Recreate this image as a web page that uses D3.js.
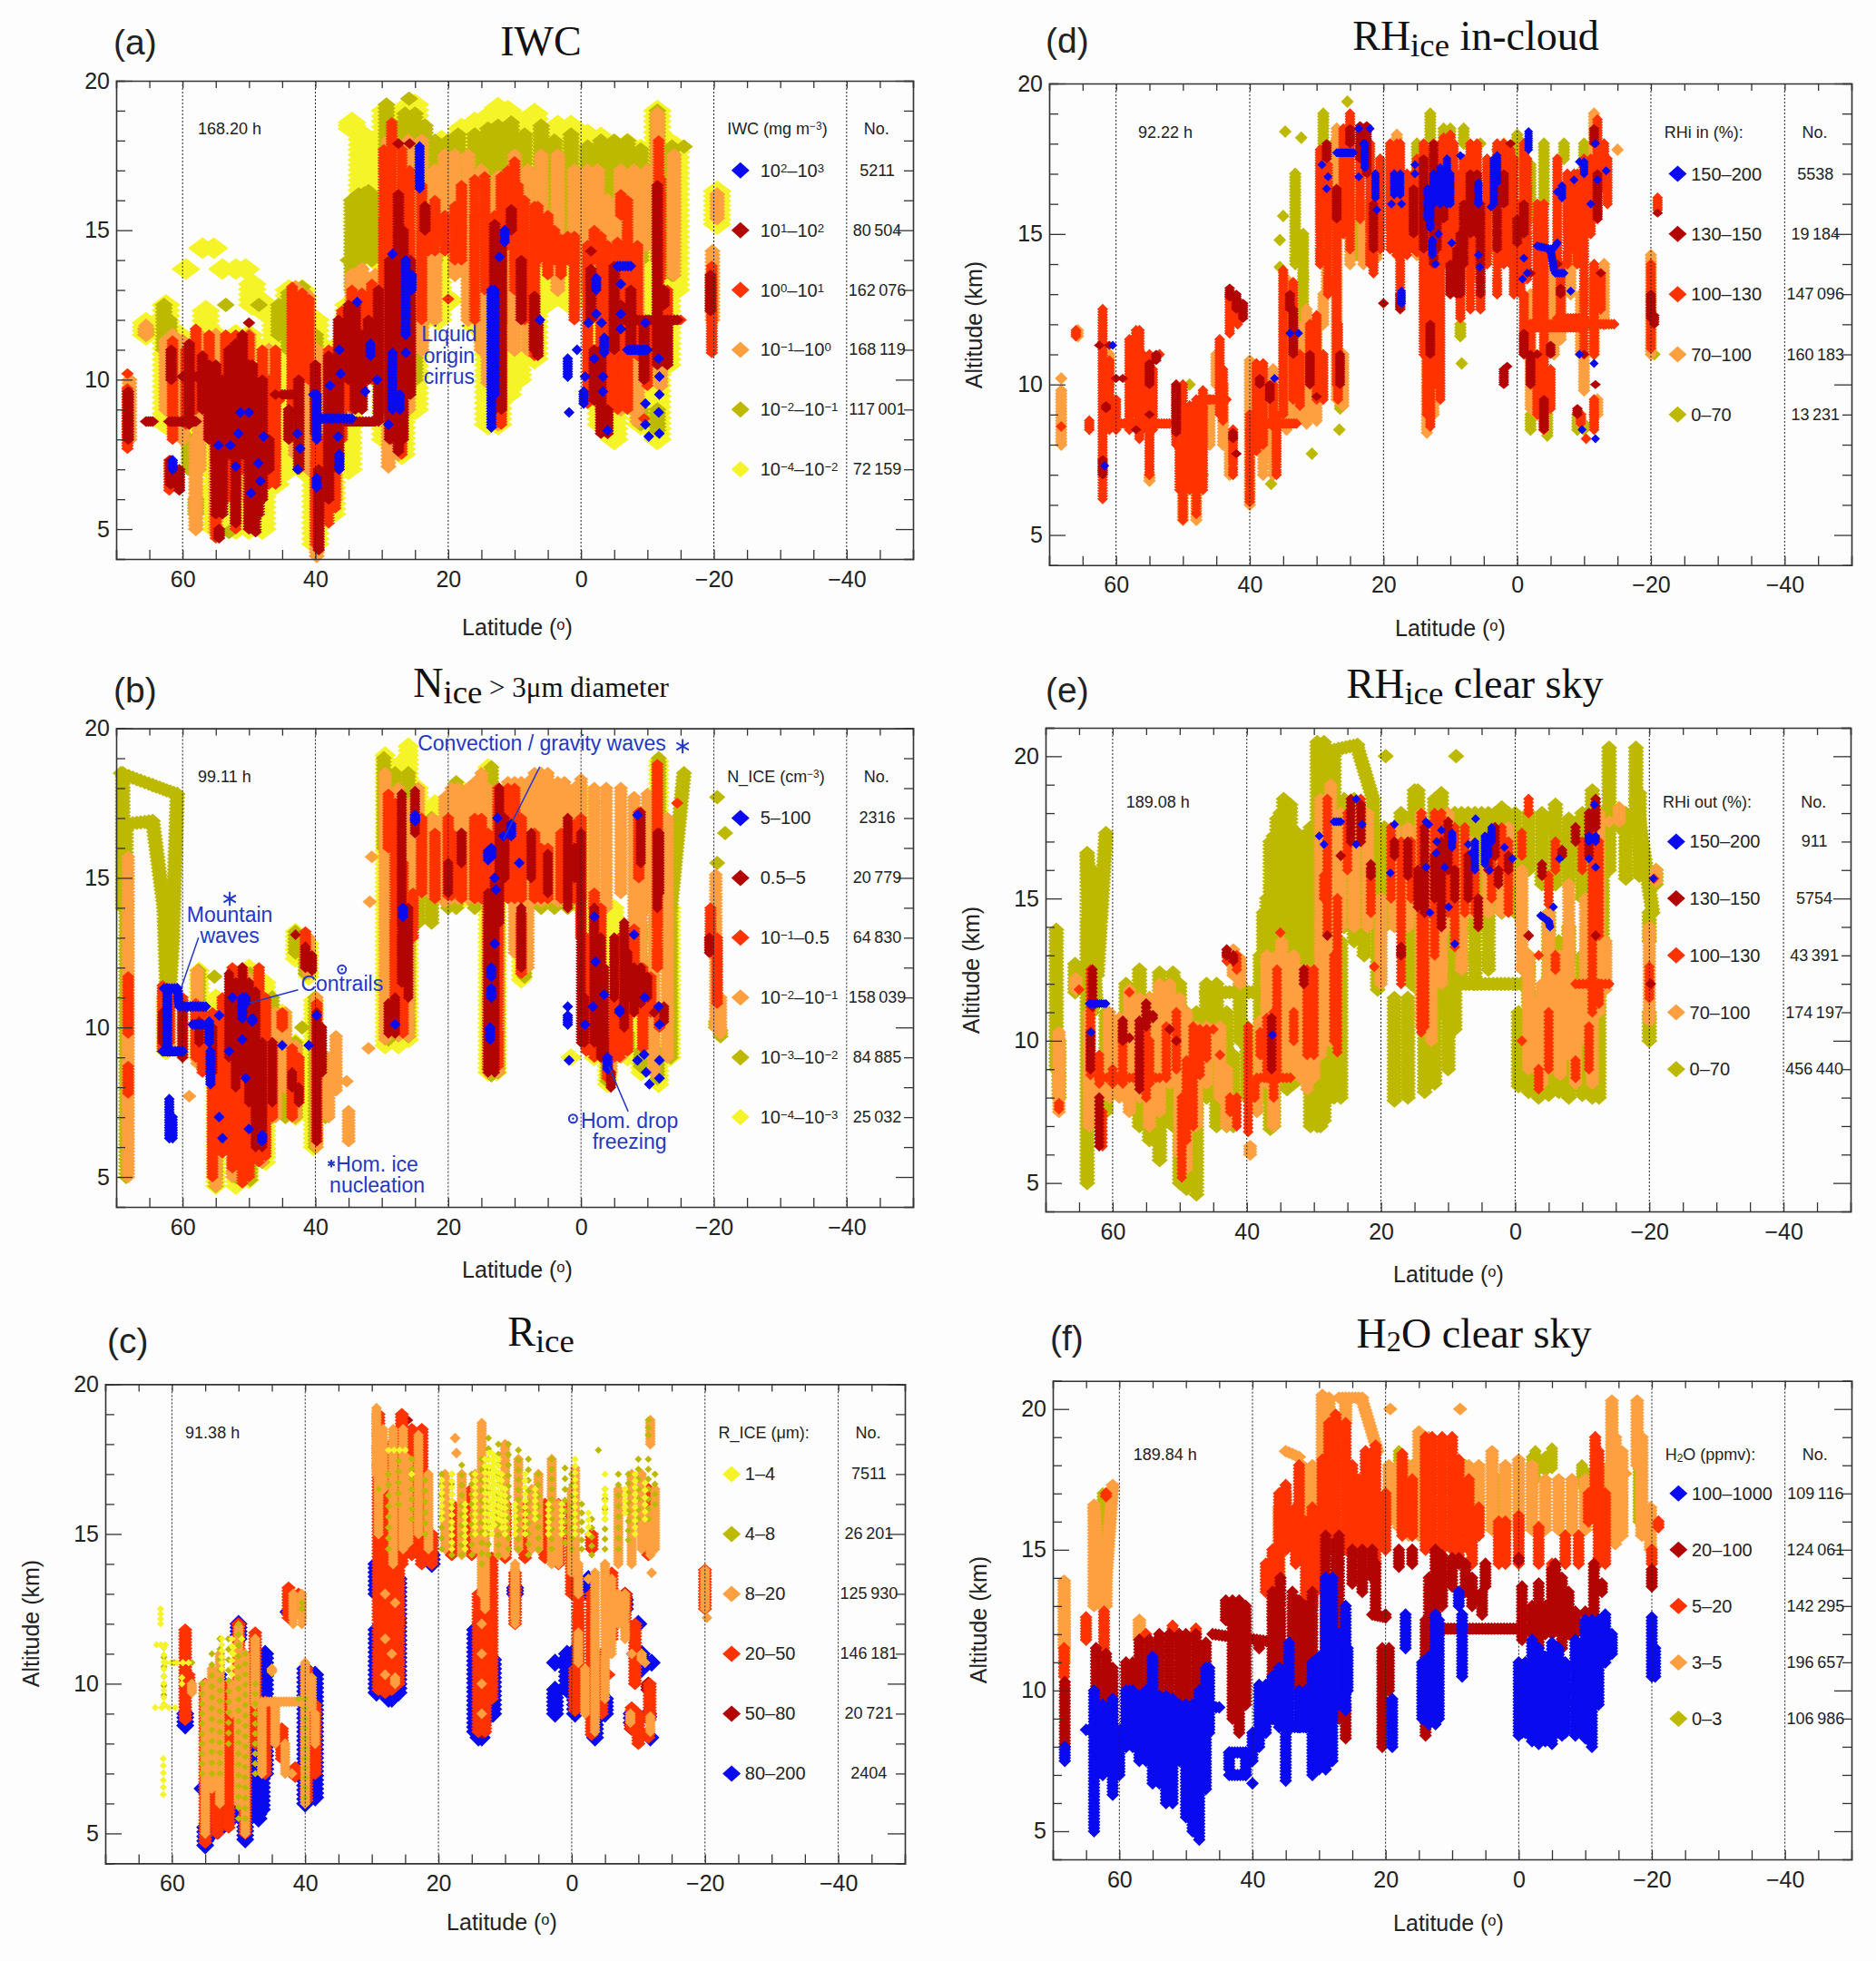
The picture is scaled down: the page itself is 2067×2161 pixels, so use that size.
<!DOCTYPE html>
<html>
<head>
<meta charset="utf-8">
<script src="https://d3js.org/d3.v7.min.js"></script>
<style>
  body { margin: 0; background: #fdfdfd; }
  text { font-family: "Liberation Sans", Arial, sans-serif; fill: #222; }
  .serif { font-family: "Liberation Serif", "Times New Roman", serif; fill: #111; }
  .note { fill: #2438c4; font-size: 23px; }
</style>
</head>
<body>
<div id="chart"></div>
<script>
// every track is [lat, altLow, altHigh] or, for a sloped leg, [lat1, alt1, lat2, alt2]

// (a) IWC
var iwcBlue = [[61.5,7,7.3],[54.6,7.8,7.8],[52.8,7.8,7.8],[51.3,8.9,8.9],[50,8.9,8.9],[51.6,8.2,8.2],[52,7.1,7.1],[49.7,6.2,6.2],[48.6,7.2,7.2],[48.3,6.6,6.6],[47.8,8.1,8.1],[42.7,8.2,8.2],[42.3,7.7,7.7],[42.7,7,7],[40.3,9.5,9.5],[39.8,8,9.5],[37.8,9.8,9.8],[36.2,10.2,10.2],[36.4,11,11],[39.8,8.7,34.5,8.7],[36.6,8.1,8.1],[36.4,7,7.5],[39.8,6.4,6.7],[33.7,12.6,12.6],[31.7,10.8,11.2],[32.5,9.6,9.6],[30.7,10,10],[28.4,14.2,14.2],[28.4,9,10.9],[27.3,9,9.5],[29,8.5,8.5],[26.4,10.9,10.9],[26.4,11.5,14],[25.5,13,13.5],[24.3,16.4,17.8],[11.5,14.6,15],[13.5,8.4,13],[13,9.5,13],[12.3,14.1,14.1],[6.2,12,12],[2,10.1,10.7],[1.8,8.9,8.9],[0.6,11,11],[-0.6,10.1,10.1],[-2,10.7,10.7],[-0.4,9.2,9.6],[-2.3,13,13.4],[-2.3,12.2,12.2],[-1.1,11.9,11.9],[-3.1,11.9,11.9],[-3.5,10.9,11.4],[-3.3,10.1,10.1],[-3.3,9.6,9.6],[-4,8.3,8.3],[-5.5,13.8,-7.5,13.8],[-6,13.2,13.2],[-6,12.2,12.2],[-6,11.7,11.7],[-7,11,-10,11],[-9.7,11.9,11.9],[-9.7,9.2,9.2],[-9.7,8.5,8.5],[-10.2,8.1,8.1],[-11.7,10.7,10.7],[-11.8,10.1,10.1],[-11.8,9.5,9.5],[-11.7,8.9,8.9],[-11.8,8.2,8.2]];
var iwcDark = [[68.2,8,9.6],[61.7,10,11],[61.8,6.5,7.3],[60.5,6.3,7],[65.5,8.6,64.5,8.6],[62,8.6,58,8.6],[60,10.1,57,10.1],[59,8.5,11.2],[57,9,10.8],[56,8,10.5],[55,5.5,10.5],[54.5,4.7,5],[54,5.5,10],[53,7.5,11],[52,5.2,11.2],[51,7.5,11.5],[50,5,10.5],[50,11.9,11.9],[49.5,6,10.5],[49,4.9,9.5],[48.5,5.5,9.5],[48,6,10],[47,7,8],[46,9.5,9.5],[44,8,9],[42.5,7,10],[40,8.2,10.5],[39.5,4.3,7],[38,6,10.8],[36.5,7,12],[35,10,12.5],[34,9,12.5],[33,9,11.5],[32,10,12],[30.5,8.6,13],[28.8,8,14],[27.5,7.6,16.2],[26.8,8,15],[25.7,9.5,14],[27.5,17.9,17.9],[25.8,17.9,17.9],[23.5,15,15.8],[13,9,15.2],[12,9,14.5],[10.5,15,15.7],[9,12,14],[7,11,12.8],[6.5,10.8,12],[-1.5,14.3,14.3],[-1.5,12,13.7],[-2,9.3,11],[-3,8.2,11],[-4,8.2,9],[-5,11,13.8],[-6,12,12.5],[-7.5,11,13],[-9.5,10,11.8],[-11.5,10.5,16.5],[-12.5,12.5,13],[-13,10.5,12],[-19.5,12.3,13.5],[-5,12,-14.5,12],[45,9.5,43,9.5],[38,8.6,31,8.6]];
var iwcRed = [[68.3,7.7,9.7],[68.3,10.2,10.2],[62,6.3,7.3],[61.5,8,11.3],[59.5,8.5,11],[58,9,11.7],[56,8,11.5],[55,4.7,10],[53.5,6,11.5],[52,5,11.5],[51,7,11.5],[50,5,11.5],[48,6.5,11],[47,6.5,10],[46,6.5,11],[45.5,9.3,9.5],[43.5,9,13.1],[42,10,12.9],[41,10,12.7],[40,4.5,10],[39,5.5,8],[38,5.2,11],[37,5.7,10.8],[36,8,12.3],[34.5,9,13],[33,9,12.9],[31.5,10,13.2],[29.7,9,17.7],[28.5,8,18.6],[27,7.5,17.7],[25.8,10,17],[24,12,16.5],[23,14.3,15.5],[22,14.3,16],[20.5,14.3,15.5],[20,12.7,12.7],[19,14,15.8],[18,14,16.5],[16,12,16.7],[14.5,13,16.8],[13,8.5,15.5],[12,8.5,16.8],[11,14.5,17],[10,13,17.3],[9.5,14.3,16.5],[8.5,12,16],[7,10.8,15.8],[6.5,14,15.8],[5,13.5,15.5],[4,14,15],[3,13.5,14.7],[2,14,14.8],[1,12,14.8],[-1,9.2,14.5],[-2,14,15],[-3,9,14.8],[-4,8.2,14.5],[-5.5,9,14.6],[-6,15.5,16.2],[-7,9,16],[-8.5,10.8,14.5],[-9.5,8.7,8.7],[-10,9.8,12],[-11.7,11,18],[-12,13.4,16.7],[-13,10.5,13],[-19.7,10.9,13.8],[-6,12,-15,12]];
var iwcOrange = [[65.5,11.5,11.8],[68,8,10],[62.5,9,11.3],[60,8,11.3],[58,5,8],[57.5,7,11.5],[61.5,9,11.5],[55,4.9,11.5],[50,6,11.5],[47,7,11],[43,7.5,13.1],[41,7,12.8],[39.8,4.1,11],[37,6,11],[34.5,11,13.5],[33,12,13.7],[31,12,13.5],[29,7.1,18],[27.5,7.5,17.5],[26,9,18],[24,11,18],[22,12,17],[20.5,15,17.5],[19,13.5,17.5],[17,12,17.5],[15,11,17],[14,9.9,16],[12.5,8.5,16.8],[10,11,17.5],[8,11,17],[6,14,17.5],[3.5,13,17.5],[1,14,17],[-1,13,17],[-2.5,15,17],[-4,9,16],[-6,9,17],[-8,15,17],[-8.5,8.6,15],[-10,14.5,17],[-11.5,14,18.9],[-14,13.5,17.5],[-12,9.8,12.5],[-20.5,15.4,16.2],[-19.8,12,14.3]];
var iwcOlive = [[65.5,11.5,11.7],[62.8,11,12.5],[62,9.5,12],[59,7,8],[58,5.5,6],[53,4.9,4.9],[53.5,12.5,12.5],[48.5,12.5,12.5],[45.5,11.5,12.5],[44,11,12.9],[42,9,13.1],[40,8,11.5],[35,14,14],[34.5,13,16],[33.5,11.5,16.2],[34.5,16,32,16.3],[31.5,14,16.2],[29.3,11,19.2],[28,8,18.5],[26.5,9,18.9],[25.9,19.4,19.4],[25,10,18.9],[23.5,12,18.5],[22,14,18],[20,15,18],[18.5,15,18.2],[16,13,18.2],[14,11,18.4],[12.5,9,18.5],[10.5,12,18.6],[8.5,13,18.2],[6,14,18.5],[4,13.5,18],[1.5,14,18.2],[-1,14,17.8],[-3,15,18],[-5,14.5,18],[-5.5,9.5,10],[-7,15,18],[-9,8.5,9],[-11.5,8.3,9],[-9,14,17.7],[-11.5,15,19],[-13.7,13.5,17.8],[-15.5,17.8,17.8]];
var iwcYellow = [[59.5,13.7,13.7],[57,14.4,14.4],[55.3,14.4,14.4],[54,13.7,13.7],[52,13.7,13.7],[50.5,13.7,13.7],[49.5,12.5,13.2],[48,12.3,12.6],[46,11,12.3],[56.5,10.8,12.3],[56.5,6.2,6.2],[65.5,11.5,11.9],[62.5,8.5,12.5],[60.5,8.5,11.5],[58,7,11],[55,5,11.5],[52,5,11.5],[50,5,11.5],[48,5,11],[46,6.5,11.5],[44,7,13],[42,7,13],[40,4.5,12],[37.5,5.5,11],[35,7,12.5],[34.5,18.4,18.6],[33,16,18.2],[31,14,17.5],[29.5,8,19],[27,7.5,19],[25,9,19.2],[23.5,12,18],[21.5,12,16.5],[20,12.6,12.7],[21,14.5,18],[18,14,18.4],[16,11.8,18.6],[14,8.5,18.8],[12.5,8.5,19.1],[11,9.5,19],[9,11,18.6],[7,10.7,18.9],[5.5,12.5,18.2],[3.5,12.8,18.5],[1.5,12.5,18.5],[-1,13,18.2],[-3,8.5,18.1],[-5,8,17.8],[-7,10,17.9],[-9,8.5,17.7],[-11.5,8,19],[-13,10.5,18],[-14.3,13,17.8],[-20.5,15.2,16.3],[11,10,12],[9.5,10,11]];

// (b) N_ice
var nBlue = [[62.3,9.2,11.3],[62.8,11.3,60.8,11.3],[60.8,11.3,60.5,10.7],[60,10.7,56.5,10.7],[63,9.2,60,9.2],[62,6.3,7.6],[61.5,6.3,7],[58.5,10.1,57,10.1],[56,9.5,10.2],[55.8,8.1,9.2],[54,6.3,6.3],[54.5,7,7],[54.5,10.4,10.4],[53,9.2,9.2],[52.5,11,11],[51,10.3,11],[50.5,10.8,11],[49.5,10.2,10.3],[51,9.6,9.6],[50.5,8.3,8.3],[50,6.6,6.6],[48,6.2,6.4],[45,9.4,9.4],[41,9.4,9.4],[39.8,10.4,10.4],[26.8,13.7,14],[28,10.1,10.1],[25,16.9,17.1],[13.7,9.6,10],[13.5,11,11.3],[13.5,11.7,12],[13,12.8,12.8],[13.5,15.7,16],[13,15,15],[12.8,14.6,14.6],[12.6,17,17],[11.7,16.4,16.4],[10.5,16.4,16.8],[9.3,15.5,15.5],[14,15.6,15.9],[2,10.7,10.7],[2,10.1,10.4],[1.8,8.9,8.9],[-0.6,10.1,10.1],[-1.8,10.7,10.7],[-2.2,12.2,12.2],[-2,13.7,13.7],[-3.5,11.1,11.1],[-4,8.6,9],[-5.8,10.5,10.6],[-8,13.1,13.1],[-8.5,8.9,8.9],[-9.5,9.1,9.1],[-9.6,11,11],[-9.8,8.5,8.5],[-10.3,8.1,8.1],[-11.7,10.7,10.7],[-11.8,10.1,10.1],[-11.8,8.9,8.9],[-11.8,8.3,8.3],[-8.5,17.1,17.1]];
var nDark = [[63,9.5,10.5],[60,9,10.5],[57.5,9.5,10.2],[55.5,8.5,10],[53,9,11.8],[52,8,11.5],[51,8.5,12],[50,7.5,11.5],[49,6,11.2],[48,6,9.5],[46.5,7.5,9.5],[43.5,8,8.5],[42.5,7.5,8],[43,13.1,13.1],[41.5,12,12.7],[40.5,11.9,12.4],[39.8,6.2,10.5],[39,8.5,10],[29,9.8,10.8],[28,9.8,11],[27,11.5,17.8],[26,11,14],[25,16.5,17.9],[20,14.5,15.5],[18,15.5,16.5],[14,8.5,14.5],[13,8.5,15],[12.3,13.5,18],[11.5,15,17],[9,12,14],[7.5,15,16.5],[5,14.5,15.8],[2,14,17],[1,15,16],[0,9.5,16.5],[-0.5,9.5,11],[-2,9.5,14],[-3,9,13],[-3.5,9,12],[-4.5,8,8.5],[-5,11,13],[-6.5,10,13.5],[-7,11,12.5],[-8,10.5,12],[-9,10.8,12],[-10,11,11.7],[-9,15.5,17.2],[-11,10.5,10.5],[-11.5,14,16.5],[-11.8,14.5,16.5],[-12.5,10.2,10.7],[-19.3,12.5,13]];
var nRed = [[68.2,9.8,11.7],[68.2,7.8,8.7],[63,9.2,11.4],[62,9.5,11],[60,9,11],[58,9,10.8],[57,8.5,10.5],[55.5,5,10.5],[54,5.8,11],[52.5,5.3,12],[51,4.8,12],[50,5,11.5],[48.5,5.5,12],[47.5,5.7,11],[46.5,7,9.5],[45,10,10.5],[43.5,7,9.3],[42.5,7.5,9],[41.5,12,13.2],[39.8,6.2,10.8],[29,16,17.8],[28,9.8,17.5],[26.8,9.8,15.5],[25.3,13,14.5],[24,14.5,17],[22,14.3,16.5],[20,14.4,17],[19.5,14.4,16.5],[18,14.3,16.5],[16,14.3,17],[15,14.3,17],[14,8.6,16.5],[12.5,8.7,18],[11,14.3,18],[10,14.3,18],[9,11.8,13.8],[9,14.3,17],[7,14.3,16.5],[6,14.3,16],[5,14.3,16],[3,14.3,16.5],[2,14.3,16.5],[1,14.3,16.8],[0,13,17],[-0.8,9.2,13],[-2,9,14.5],[-3,9,14],[-4,8.3,9.5],[-5,9,11],[-5.8,9,13],[-7,9.2,13],[-8,10.7,13.3],[-9.3,9.3,12],[-8.7,15,17.2],[-10.5,10.5,11.7],[-11.5,12,18.8],[-11.8,10,10.7],[-14.5,17.5,17.5],[-19.5,12.5,14],[-20.5,10.8,13]];
var nOrange = [[68.2,5,15.7],[62,9.2,11.3],[59,7.7,7.7],[57.8,8.8,11.9],[55,4.7,10],[52.5,5,11.5],[50.3,5,11.7],[48,5.5,11],[46,7,10.5],[44.5,8,10.5],[43,7,9.4],[41,11.8,13],[39.8,6,11],[38,7,9],[36.9,7.9,9.7],[35.3,8.2,8.2],[35,6.2,7.2],[31.5,15.7,15.7],[31.8,14.2,14.2],[29.5,9.6,18.5],[27.5,9.7,18],[26,9.7,17.5],[24.5,14.5,18],[22.3,14.4,17],[20.5,14.2,17.7],[19.5,14.3,18],[18.5,14.3,18],[17,14.3,18],[16,14.3,18.2],[15,14.3,18.5],[14,8.5,18],[12.5,8.5,18],[11,14.5,18.2],[10,12.5,18.2],[9,14.5,18.2],[8,12,18.2],[7,14.3,18.5],[6,14.2,18.5],[5,14.3,18.5],[3.5,14.2,18.2],[2.5,14.3,18.2],[1,14.5,18],[0,14.3,18.3],[-2,14,18],[-3.8,14,18],[-4.5,8.5,10],[-6,9,12],[-6,14.5,18],[-8,11,17.7],[-9,10.5,15],[-10,14,17.8],[-11,8.5,17],[-13,9,17],[-20.3,10,15.1],[-21,9.8,11],[32,9.3,9.3]];
var nOlive = [[69.3,18.5,64.5,18.1],[64.5,18.1,60.8,17.8],[60.8,17.8,61.5,13],[61.5,13,62,11],[68.7,16.8,64.5,16.9],[64.5,16.9,62.8,14],[62.8,14,62.4,11.3],[68.5,5,16.7],[69,14,18.5],[57.6,9,11.9],[55,4.7,10],[52,5,11.5],[49.8,4.9,11.8],[48,5.5,11],[46.5,7,11],[44.5,7,9.5],[43,7,9.5],[42,10,10],[40,6,11],[38.5,7,9],[43,12.5,13.2],[41.5,11.8,12.7],[55.2,11.7,11.7],[29.7,16,19],[29,9.6,11],[28,14,18.5],[26,9.7,18.5],[24.5,13.5,16],[22.5,13.5,17],[20,14,14.5],[18.8,14,18.2],[16,14,17.5],[13.5,8.4,18.7],[12.5,8.5,17.6],[8.5,11.7,12.5],[8,14,17],[6,14,14.5],[4,14,17.5],[2,14,17.9],[-4,8.2,9],[-7,9.3,9.8],[-9,8.7,9.2],[-11.5,8.3,9.2],[-9,10.7,14],[-11.7,14.5,19],[-13.5,9,14],[-13.5,14,-15.5,18.5],[-20.5,17.7,17.7],[-21.7,16.5,16.5],[-20.5,15.5,15.5],[-20.3,10,10.2],[-21,9.7,9.9]];
var nYellow = [[62.5,9.2,11],[57.5,9,11.9],[55,4.7,11],[52,4.7,11.8],[50,4.9,12],[47.5,5.5,11.5],[45,8,10.5],[43,7,9.5],[40.3,6,10.9],[43,12.3,13.2],[41,11.7,12.8],[29.5,9.4,19.1],[27.5,9.4,18.8],[26,9.6,19.4],[24.5,14.3,18],[22,14.3,17.5],[18,14.2,18],[16,14.2,17.5],[14,8.5,18.7],[12.7,8.5,17],[9,11.6,12.5],[0,14,18],[-2,9,14],[-4,8.1,9],[-7,9,11],[-9,8.5,11],[-11.7,8.1,9.3],[-11.7,14,18.9],[-13.5,9,14],[1.5,9,9],[-5,9,14],[-8,9,13]];

// (c) R_ice
var rYellow = [[61.7,12,12.5],[61.2,9.3,11.2],[62.3,11.3,61,11.3],[61,10.7,57.5,10.7],[62.5,9.2,59.5,9.2],[61.3,6.3,7.5],[58.5,10,10.2],[52.5,10.5,11.5],[51,10.3,11.5],[50.8,11,11.2],[49.5,11.5,11.5],[27.5,17.8,25,17.8],[24,17,17],[19.5,15.5,16.8],[18,14.5,17],[16,14.5,16],[14.5,15,17],[13,15,17.5],[12.4,15.2,17.7],[12,15,17.7],[11.6,15.3,17.6],[11,15.5,17.5],[10.5,15.2,17],[10,15,16.5],[8.5,15,16],[7,15,17],[5.5,15.5,16.5],[3.5,15,16],[1.5,15,16],[-0.5,15,17.5],[-2.5,15,15.7],[-5,15.5,16.5],[-8,15.7,16.5],[-9.5,15,17],[-11,15.5,16.7],[-5,17,17]];
var rOlive = [[61.2,9.3,11.2],[61,10.7,57,10.7],[55.5,7,10],[54,7,11],[52.8,7,11.5],[51.5,8,11.5],[50,5.5,12],[49,5.5,11],[47.5,7,10],[40,6.2,9.5],[40,7.5,7.5],[41,9.5,9.5],[40.5,12.5,12.7],[29,16.5,16.5],[27.5,14.5,17],[26,16,17.8],[24,15.5,17.5],[22,15,16.8],[19.5,14.5,17],[18,14.3,17],[16.5,14.3,17.3],[15,14.3,17],[13.5,14,17.5],[12.5,14.3,18.2],[11,14.3,18],[9.5,14.5,18],[8,14.5,17.8],[6.5,14.3,17.5],[5,14.5,17],[3,14.5,17.5],[1,14.7,17.2],[0,14.5,17],[-1.5,14.5,16],[-3,14.3,15.5],[-5,14.5,16.5],[-7,14.5,17],[-8.5,14.8,17],[-10,15.5,17.5],[-11.5,15.5,17.5],[-12.5,16,17],[-11.5,18.3,18.8],[-4,17.8,17.8]];
var rOrange = [[57,9.7,10],[55,5,10],[54,6.5,10.5],[52.8,6,11],[51,9,10],[50,6,11.9],[49,5,11],[47.5,9.3,11.5],[46.5,7,9.4],[45,10.4,10.5],[44.5,8,9.4],[43,7,8],[42,7,7],[41.8,12,13],[40.5,12,13],[40,6,10.7],[39,9.2,10.2],[38.5,8,9],[46,9.4,40,9.4],[29.3,17,19.2],[29,15,17.5],[28,10.3,10.3],[28,11.5,11.5],[28,13,13],[27,11,11],[26.5,12.7,12.7],[26.5,10,10.2],[28.3,16.5,18.5],[26.8,14,18.5],[25.3,14.5,18.5],[24.5,14.7,17.5],[23,15,18.3],[21.5,14.5,17],[19,14.5,17],[17.5,18.2,18.2],[17.3,17.7,17.7],[16.5,14.3,17],[14.5,14.5,17],[13.5,13,18.7],[13.5,9,9],[13.5,10,10],[13.5,11,11],[13.5,12,12],[13,12.5,17],[11,14.3,16],[10,14.3,18],[8.5,12,14],[8,14.5,17.5],[6,14.5,16.5],[5,14.5,17],[3,14,17.5],[2,14,16],[0,13.7,16.5],[-0.5,14,17.2],[-1,13,14],[-1,10.7,11.7],[-2,9,10.5],[-3.5,8.4,13.7],[-5,9.5,14],[-6,11,13.5],[-7,12,13],[-7,14,16.5],[-8,11.5,13],[-9,14,17],[-9,11,11],[-10.5,10.8,11],[-10.5,14.5,17],[-11,10.7,10.7],[-8.8,8.7,9],[-11.8,8.4,8.9],[-11.8,18,18.8],[-11.8,14.3,15.8],[-12,13.7,13.7],[-12.5,14.5,16.5],[-20,12.5,13.8],[-20.3,12.2,12.2],[-2.5,13.5,13.5]];
var rRed = [[58,8.8,11.8],[57.5,10,10.3],[55,4.7,10],[53.2,5,10],[51.5,5.2,10],[50,9,12],[49,5,9],[47.5,8,11.7],[46,7,9.4],[43.5,7.5,8.5],[41.5,6.9,7.2],[42.5,12.2,13.2],[41,12.4,13],[39.8,6.1,10.5],[38.5,7,9.3],[29,9.8,19],[28,9.7,17.5],[27,9.8,18],[26,10,18.5],[25.5,14,19],[24,14.3,18.5],[22.5,14,18.5],[21,14,15],[18,14.3,16],[15,14.3,16.5],[14,8.4,13],[13,8.4,13.5],[12,9.5,14.2],[10,14.2,16],[8.5,12,13.7],[7,14.2,16],[4,14.2,16],[2,14,16],[0,13,16],[-1,11,13],[-1,10,11],[-0.5,9.1,10.5],[-3,8.3,13],[-4.5,9,11],[-6,11.5,13.7],[-8,12,13],[-9.5,10,12],[-10.2,11,11],[-10,8,9],[-11.7,8.8,10],[-11.5,8.2,8.4],[-11.5,14.3,16.5],[-20,12.5,13.8],[-5.5,10.3,10.3],[-9,8.5,9.2],[-3,14.5,15]];
var rDark = [[13.5,8.4,9.5],[27.5,9.8,10],[50,12,12],[-9,8.5,8.7],[-8,12.5,13],[26,12,12.2],[28.5,11,11.5],[13,11,12.5],[-11.5,9.8,10],[25,18.8,18.8]];
var rBlue = [[58,8.6,9],[55,4.6,5.2],[54,5,7],[53,5.1,7],[51,5.5,6],[49,4.8,5.5],[47,5.5,11],[47.3,5.6,8],[46.5,5.8,8],[46,7,11],[55.4,6.5,6.5],[53,7,10.3],[50,11.5,12],[47.5,10,11],[42.5,12.4,12.4],[40,6,10.5],[38.5,6.2,10.3],[38.7,6.5,6.5],[41.5,7,7],[29.3,13,14],[29.3,9.7,11.8],[27.5,9.5,10],[27,9.5,9.8],[26,9.7,13.5],[21,14,14.3],[14.5,8.4,11.8],[14,8.2,10.5],[13.5,8.2,9.5],[13,8.8,10.8],[12,9,10.8],[11.8,9,10.8],[8.5,13,13.2],[0.7,9.8,11],[-0.5,9,10.8],[2.5,9,9.8],[2.5,10.7,10.7],[0,10,11],[-3.5,8.2,10.2],[-5,9,9.5],[-9,8.7,9],[-9.5,11,11],[-10.5,10.5,11],[-11.8,8.2,8.2],[-11.5,8.9,9],[-12,10.7,10.7],[-2.5,13,13.5],[-8,12.5,12.8],[-10,12,12],[-11,15.2,15.5]];

// (d) RHi in cloud
var rhiBlue = [[61.7,7.3,7.3],[60.5,11.3,11.3],[36.3,10.2,10.2],[34,11.7,11.7],[32.7,11.7,11.7],[29.2,17.3,17.3],[28.3,16.9,16.9],[28.5,16.5,16.5],[27,17.7,24.5,17.7],[23.7,18.5,18.5],[22,18.5,18.5],[23,18,18],[22.8,17.2,18],[23.7,16.9,16.9],[21.2,16.2,17],[21,15.8,15.8],[17.3,12.7,13.1],[15.3,17.3,17.3],[18.4,16.3,17],[17.5,16.3,17],[18.8,16,16],[17.3,16,16],[15.3,17,17],[13.4,15.5,16.5],[13,15.2,16],[12.5,16,17],[11.5,16,17.2],[10.5,16,17.5],[10,16,17],[12.7,14.3,14.8],[12.2,14,14],[9.8,14.7,14.7],[11.8,15,15],[8.5,17.6,17.6],[5.8,16,16.7],[5.8,14.3,14.3],[5.6,13.9,13.9],[3.5,16,17.5],[3,16.7,17.6],[3.9,15.9,15.9],[-1.7,17.8,18.4],[-1,14.2,14.2],[-0.8,13.5,13.5],[-1.5,13.7,13.7],[-9.3,11,11],[-11.5,10.7,10.7],[-9.7,8.5,8.5],[-11.7,8.2,8.2],[-3,14.6,-5,14.5],[-5,14.5,-5.5,13.8],[-6,14.7,-5,14.4],[-7,13.7,-5.7,13.7],[-8,13.1,13.1],[-6.7,16.2,16.6],[-6,16.4,16.4],[-8.5,16.8,16.8],[-9.3,17.4,17.4],[-10,17,17.4],[-11,16,16],[-11.7,18,18],[-12,16.8,16.8],[-13.3,17.1,17.1]];
var rhiDark = [[62,7,7.5],[61.5,9.2,9.3],[62.5,11.3,11.3],[61,11.3,11.3],[60,10.2,10.2],[59,10.2,10.2],[57,8.5,8.5],[55,9,9],[55,10,10.7],[54,10.8,11],[51,8.4,10],[42.5,8.2,8.4],[42,7.7,7.7],[43,12.9,13.2],[42,12.5,13],[41,12.2,12.7],[38.5,10,10.2],[37,9.5,10],[34,12.5,13],[33.5,11,12.5],[31,10,11],[30,9.6,9.6],[28.5,17.5,18],[27,15.5,16.5],[26.5,10,11],[25,18,18.5],[23.5,17.5,18.6],[22.5,17,18.6],[21.5,14.5,16],[20,12.7,12.7],[17.5,12.5,13],[15.5,15,16.5],[14,14.5,17.5],[13,11,12],[12.5,14,18],[12,14.5,16],[11,15.5,17],[10,13,14],[9,13,14.5],[8.5,13,15],[8,14,16],[7,15,17],[6,15,17],[5.5,13,16],[3,14.5,16.5],[2,16,17],[1,18,18],[0,14.7,15.5],[-1,15,16],[-1,11,11.7],[-2,10,11],[-2,13.7,13.7],[-3,11,11],[-4,8.5,9.5],[-5,11,11.3],[-6,14,14],[-6.5,13,13.2],[-9,9,9.2],[-10,11,11],[-11.5,18,18.5],[-12,15.5,17],[-12.5,13.7,13.7],[-11.7,10,10],[-20,12.2,13],[-21,15.7,15.7],[-20.5,12,12.3],[1.5,10.6,10.6],[2,10,10.5]];
var rhiRed = [[68.2,8.6,8.6],[66,11.6,11.8],[64,8.5,8.8],[62,6.2,12.5],[61,8.5,10.8],[60,8.5,9.5],[58,8.5,11.5],[57,9,11.8],[56.5,8.2,11.8],[56,8.5,11],[55,7,11],[54.5,8.5,10.5],[53.5,11,11],[51,8,10],[50.5,6.5,9.2],[50,5.5,10],[49,6.5,9.3],[48,5.7,9.5],[47.5,8,9.5],[47,6.5,9.8],[46,9.5,9.5],[44.5,9,11.5],[44,8.8,10.5],[42.5,7,8.5],[43,11.7,13],[41.8,12,12.8],[40,6.1,9],[39,7.8,10.7],[38,8,10.7],[36.5,8.6,10],[36,7,9],[35,9,13.8],[33.5,9.5,13.4],[32.5,9.3,11],[31,10,12],[30,9.5,12.3],[29,9.5,11],[29.5,14,17.8],[28.3,13,17.3],[27,10,16.5],[26.8,9.5,12],[26,15,18.5],[25,14.5,19],[23.5,15.5,18],[22,14,18],[21.5,13.7,16],[20.5,14.5,17.5],[20,12.7,12.7],[19,14.5,18],[18,14.3,18],[17.5,12.5,18],[16.5,14.3,17],[15.5,14.5,17],[15,14.4,17.5],[14,11,18],[13.5,9,13],[13,8.6,17.8],[12.5,10,18],[11.5,9.5,18],[11,14,18.2],[10,13,18.3],[9.5,14,18],[9,13,17],[8.5,12.2,16],[8,14,17.5],[7,12.5,18],[6,14,18],[5.5,12.5,16],[4.5,14,17.5],[3,13,18],[2,14,18],[1,14,17.8],[0.5,13,17.5],[-1,14,18],[-0.5,13,16],[-1.5,13.5,17.5],[-1,11,13],[-2,10,12],[-3,12,16],[-3,9,11],[-3.5,9,11],[-4,8.5,16],[-5,9.2,10.5],[-6,14,17.5],[-6.5,12,14],[-7.5,14,17],[-8.5,14.5,17],[-9,14,17],[-10,11,17.5],[-11,15,17.5],[-11.5,11,14],[-12,15.5,18.8],[-13,16.5,18],[-13.5,16,17.5],[-12.5,12.5,13.7],[-11.5,9,9.5],[-9.5,8.7,9],[-10.3,8.2,8.2],[-11.5,8.5,9],[-20,11.2,14],[-21,15.8,16.2],[-2,12,-14.5,12],[-6,12.2,-10,12.2],[-2,11.9,-10,11.9],[60,8.7,52,8.7],[50,9.2,47,9.2],[47,9.5,43.5,9.5],[38,8.7,33,8.7]];
var rhiOrange = [[68.2,8,9.8],[68.2,10.2,10.2],[65.7,11.6,11.8],[61,10,11],[55,6.8,7],[50,5.5,9],[48,5.5,9],[46,8,9.3],[45,10,11],[44,8,10],[43,7,8],[40,6,10.8],[38,7,10],[36.5,7,10.5],[34.5,8.5,13.5],[33,8.8,12],[31.5,8.7,12.5],[30,8.8,12],[29,12,13],[28.5,13,17.5],[27,9.5,18.5],[26,9.3,11],[25,14,17],[23,14,16],[21,14.2,17],[18,14.3,18.3],[15,14.3,17],[13.5,8.4,14],[12.5,9,14],[7,13.5,15],[4,14.5,17],[2,14.5,18],[-1,14,18],[-2,9.2,13],[-3,9,10.5],[-4,8.5,10],[-5.5,11,14],[-6.5,11.5,13],[-8,13,15],[-9.5,11,13],[-10,9.8,11],[-11.5,11,13.5],[-11,15.5,17],[-11.5,16,19],[-20,11,14.3],[-15,17.8,17.8],[-13,12,14],[-9.5,8.7,9],[-12,9,9.5]];
var rhiOlive = [[34.7,18.4,18.4],[32.3,18.2,18.2],[33.2,14,17],[32,13.5,15],[35,15.6,15.6],[35.5,14.8,14.8],[35.5,13.9,13.9],[29,17.5,19],[27.5,14,18],[25.4,19.4,19.4],[26,16,18],[24,14.3,16],[23,14.2,15],[30.7,7.7,7.7],[26.6,8.5,8.5],[36.8,6.7,6.7],[47,7,7],[49,10,10],[8.3,10.7,10.7],[8.5,11.6,12],[-10,10.1,10.1],[32,9,13.7],[30.5,9,12],[26.5,9.2,10],[15,16.5,18],[13,17.5,19],[11,16,18.5],[10,17,18.5],[8,18,18.5],[5.5,18,18],[3,17.8,17.8],[0,17.5,18.3],[-2,15.5,17.3],[-4,16,18],[-7,17.5,18],[-10,17,18],[-1.5,15.5,17],[-2,8.5,9],[-10,8.5,8.7],[-4.5,8.3,9],[-9,8.5,9],[-20.5,11,11]];

// (e) RHi clear sky
var outBlue = [[63.2,10.3,10.3],[63.5,11.3,61,11.3],[29.2,17.2,17.2],[28.5,16.9,16.9],[27,17.7,26,17.7],[23.7,18.5,18.5],[22.8,17.6,17.6],[23.7,16.9,16.9],[18.6,15.9,15.9],[18,17.6,17.6],[13.3,17.7,17.7],[12.9,17.6,17.6],[13.3,16.1,16.1],[12.7,14.5,14.5],[11.7,17,17],[11.8,16.6,16.6],[10.5,16.1,16.1],[11,17.4,17.4],[9.4,16.8,17.3],[9.9,14.7,14.7],[9,13.4,13.4],[5.9,17.8,17.8],[6,16,17],[6.5,16.6,16.6],[7,16.9,16.9],[4.5,16.2,17.2],[4,16.5,17.2],[3.5,17,17.5],[3.8,16,16],[1.6,16.8,16.8],[0.4,16.4,16.4],[-6.6,16.4,16.4],[-20.6,15.7,15.7],[36.2,10.2,10.2],[-11.8,18.3,18.3],[-11,17,17.2],[-12,17,17.2],[-11,16.4,16.4],[-12,16.1,16.1],[-3.8,14.4,-5,14.2],[-5,14.2,-5.2,14],[-5.7,14.7,14.7]];
var outDark = [[63,11.2,12.5],[63.3,9,10.3],[62,6.3,8],[58.5,10,10.7],[57.5,10.1,10.1],[56,8.3,10.7],[55,10.5,11.3],[54,10.8,10.9],[51.5,10.4,10.4],[50.5,10,10],[43,13,13.2],[42,12.8,13],[36.3,9,10.8],[31.5,12,12.5],[28,13.7,13.7],[26,16.5,16.5],[24.5,17,18.5],[23,17,18.3],[21.5,15.8,16.2],[17,13,13.3],[18,16.5,17],[16,15.8,17],[14.5,14.7,16],[13.5,14.5,17.5],[12,15,16.5],[11,14,17],[10,16,17.7],[9,15,16],[7,15,16.5],[5.5,14,15],[4,16,17],[3,16.5,17.5],[2.5,15.5,16],[1,16,16.5],[-2,13.7,13.7],[-4,15.8,16.2],[-7,16.5,16.7],[-9,17,17.5],[-11,16.5,18],[-12,13.7,13.7],[-20.2,12,12],[-12,17.5,18.5]];
var outRed = [[68,7.6,7.8],[65,11.8,11.8],[63.3,8.8,12.5],[62,8.5,9.5],[61.5,6.3,7.5],[60,8.5,9],[58.5,8.5,10.7],[57.5,11.7,11.7],[56,8.5,10.7],[55,8,11.3],[54.5,8.5,10],[52,8.7,10.5],[50.5,9,11],[49.7,5.2,8],[49,6.5,9.3],[48,7,10.5],[47,8.8,10.4],[46,9.4,10.4],[45,10.4,10.4],[44,9.5,9.5],[42.5,7.5,8],[41.5,7,8],[43,12.8,13.2],[41.5,12.5,13],[39.8,6.8,10.5],[38.8,8,8.5],[38,9.5,10.3],[37,8.7,10.8],[36,8,11],[35.5,8.7,12.5],[35,13.8,13.8],[33,10,11],[31,9.5,12.5],[30,9.5,12.5],[28,13.8,18.5],[27,10,13],[26.5,9.6,15],[28.5,15,15.8],[25,16,18],[23,17,18.5],[21.5,14.5,16],[21,12.6,12.6],[18.5,15,17.5],[17,12,17],[15.5,15,17],[14,10.3,18],[13.5,10.5,17.5],[12,13,18],[11,14,18],[10,14.5,17],[9,13.3,17.5],[7.5,14.5,17.5],[6,14.5,16],[3.5,15,17],[2,16,17.5],[1,14.5,17],[-1,10,10],[-1,16.5,17.3],[-2,18,18.5],[-2,13.7,13.7],[-3.5,13,13],[-3.5,8.3,9],[-5,9,11],[-5,14.8,15.8],[-6,16,17],[-6,12.5,13],[-9,8.7,9.3],[-10,16,17],[-11,9,10.5],[-11.5,11,18],[-12.5,13.7,17],[-12.5,11.3,12],[-20,11.5,12.6],[-20.7,15.7,15.7],[-9,12,-14,12],[38.5,8.7,33.5,8.7],[62,8.7,53,8.7]];
var outOrange = [[68,7.5,10.3],[65.5,11.8,12.2],[63.5,7,11],[62,8,9],[60.5,8,11],[59,8,10.8],[57.5,7.5,11.8],[56,8,11.5],[54.5,7,11.5],[53,7.5,12],[51.5,8.5,12],[50,6,11.5],[49,5.5,11],[47.5,7,10.5],[46,8.5,10.5],[45,9.5,10.4],[44,8,10.5],[43,7,9],[42,12.3,13.2],[41,12,12.9],[39.5,6,6.3],[38.5,7.5,8.3],[38,8.5,10.7],[37,8.5,13],[36,7,12.5],[35.5,8.7,13],[34.8,8.7,13.5],[33,9,13],[32,8.7,12.5],[31,8.3,12.5],[30,8.7,12],[29,9.5,18.5],[28,10,14],[27.5,10,19],[26,14,18],[24,14,18],[22,14,18],[20,12,15],[18,14,17.5],[16,14,17.5],[14,10.5,18],[12.5,10,17.5],[11,12,15.5],[10,14,18],[8,12.5,17],[6.5,14.5,17],[4,14.5,16.5],[2,14.5,17],[1,15.5,17.5],[-1,12.5,16],[-2,9,13],[-3,9,11.3],[-4,8.5,12],[-5,9,14.5],[-6.7,8.8,13],[-8,9.5,15.5],[-9,8.5,12],[-10.5,10,15],[-11.5,8.5,13],[-12.5,11,18],[-14,17.7,17.7],[-15.5,17.7,18.2],[-20,10.7,14],[-21,15.6,16],[-13.5,11.8,13.5],[-4,10.2,-9,10.2]];
var outOlive = [[68.4,9,13.9],[68,8,10],[63.8,5,16.6],[63,11,16],[63.8,16.5,62.5,11.5],[61,17.3,62.3,12.3],[65.6,11.7,12.7],[61,7.5,11],[58,8,12],[56,7,12.5],[54.5,6.5,11.5],[53,5.8,12.4],[51,7,12.4],[50,5,12],[49,4.8,11],[47.5,4.6,11],[46,8,12],[44.5,7,12],[43,7,11],[41,10,12],[40,8,10.5],[42,7,9.5],[46,11.7,38,11.7],[38,8,13],[37.5,8,14.5],[37,8.2,15],[36.5,6.9,17],[36,7,17.2],[35.5,8.5,17.8],[35,8.5,18],[34.5,8.4,18.5],[34,8.3,18],[33.5,8.5,18.3],[33,8.5,17],[32.5,8.6,17.3],[32,8.7,17],[31.5,8.7,17.2],[30.5,7,17.5],[29.5,7,20.5],[29,7,20],[28.5,7.2,20.5],[28.5,15,18],[27.5,8,15],[27,8,20],[26,8,13.5],[27.5,20.2,23.5,20.4],[23.5,20.3,21.2,18.5],[21.2,18.5,21,14],[25.5,14,18.5],[24,13.5,18.5],[23,14,17.5],[22.5,13,14],[20.5,11.8,14.5],[19.5,14,17.5],[19.3,20,20],[18,7.9,11.5],[17,14,18],[16,8,11.5],[15.5,12,15.5],[15,14.5,18.8],[14.5,11.8,18.8],[13.5,8.2,15.5],[12,8.5,14],[12,14,18.5],[11,11,18.7],[10,9,15],[9,10.4,18],[8,12,18],[7,15,18],[6,12,18],[5,15,18],[8.8,20,20],[4,12.5,18],[3,15,18],[2,14.5,18.2],[1,15,18],[0,14.5,18],[-2,16,18],[8,12,-2,12],[-0.5,8.4,11],[-2,8.2,13],[-3.5,8,11.5],[-4,15.5,18],[-5,8.1,14.5],[-6.5,8.2,13.5],[-8,8,14],[-8,15.5,17.8],[-10,8.1,13],[-11.5,8,13],[-12.5,8,18],[-6,15.5,18.3],[-10,15,18],[-11.5,15,18.8],[-13,13.5,18],[-14,16,20.3],[-15.5,17.5,18],[-16.5,15.7,18],[-18,17.5,20.3],[-18.5,15.8,18.7],[-18,18.5,-20.5,14.5],[-20,10,11],[-21,15.5,16],[-20,13.5,14.5]];

// (f) H2O clear sky
var h2oBlue = [[68.2,7.5,8],[63.8,5,10],[62.5,7,9.5],[62,7.5,9.3],[61,6.3,9.7],[60,7,8.5],[59,8,10],[58.5,8.3,10],[58,8,10],[57,7.5,9.8],[56.5,7.8,9.8],[56,7.5,10],[55,6.7,11.2],[54,6.7,9.8],[53,6,9.8],[52,6,9.7],[51,7.5,9.5],[50,5.5,9.5],[49,5,9.5],[48,4.7,10],[47,6.5,10.8],[46.5,8.5,10.8],[65,8.6,58,8.6],[54,9.4,45,9.4],[43.5,7.2,7.8],[43.5,7.8,41,7.8],[43.5,7,41,7],[41,7,7.8],[40,6.7,6.7],[40,7.5,8.5],[39,8,10.2],[38,8.5,10.2],[37,9,10.5],[36,8.7,10.8],[35,6.8,10.8],[34.5,8.8,11.7],[33,8.7,10],[32,8.7,10],[35,8.7,31,8.7],[31,7,11],[30,7.2,11.2],[29,7.2,14],[28,7.5,14],[27,9.5,12],[26,9.3,13],[25.7,10,11.5],[19,8,9.7],[17,11.5,12.7],[14.5,9,11],[13.5,8.8,11.2],[12.5,8.8,12.7],[12,9,12.5],[8.5,10.5,12.7],[9,13,13.5],[0,8.4,11],[-0.5,8.5,10.9],[-1,8.5,11],[-2,8.2,11.8],[-3,8.1,11.5],[-4,8.2,11.2],[-5,8.1,11.7],[-6,8.5,11.5],[-6.5,8.4,10.5],[-6,10,-9,10],[-7,8.5,11],[-8.5,8.4,11.8],[-9.5,8.5,11.7],[-10,8.3,12.5],[-11,8,12.5],[-12,9.5,12.5],[-13,11,12.7],[-14,11.3,12],[-20,10.5,12.6],[-20.5,10.5,11.5]];
var h2oDark = [[68.2,8,10.3],[63.5,7,11.5],[62,7.5,11.3],[61,7.5,10.8],[59,8,11],[58,8.5,11],[57,8,11.8],[55.5,9,11.8],[54,9.5,12],[52.5,9.5,12],[51,9.5,12],[50,9.5,12],[48.5,8.5,12],[47,9.5,11.7],[46,12,36,11.7],[44,12.5,13.2],[43,9,13.2],[42,8.5,13.2],[41,9.5,13],[39,11.5,11.7],[37,9,13.5],[35.8,10.5,14],[34,10.5,13.5],[33,10,13.2],[32,10,13],[31,11,13.5],[29,9.5,15.5],[27.5,9,15.3],[27,9,15.5],[26,8.3,9.5],[25,13.8,15],[23.5,13.5,15],[22,14,15],[21.5,12.7,14.5],[20,12.6,12.7],[22,12.7,20,12.6],[20.5,8,11.5],[19.5,10,11.5],[18,14.4,15],[16,14.5,15],[14,8.4,12.5],[13.5,11,14],[12.5,12,15],[11.5,13,14.8],[10,13.7,14.7],[9,14.5,14.7],[12.5,12.2,-2,12.2],[8,13.5,14.5],[7,13,14],[5.5,12.7,13.5],[5,13.7,14.5],[0,14.6,14.7],[-0.5,11.8,13.7],[-2,12,13],[-3,11.5,13.8],[-4,12,13],[-5,12,14.3],[-5.5,12.2,14.5],[-6.5,11.5,14],[-7.5,12,13.5],[-8.5,12,12.8],[-10,12.7,12.8],[-11.3,12.7,14.5],[-12.5,13.5,13.8],[-20,13.7,14.3]];
var h2oRed = [[68.3,10.5,11.5],[65,11.8,12.6],[62.3,11.3,12.8],[62,16.9,17],[56,11.8,12],[52,11.9,12.3],[48.5,11.9,12.2],[38,13.5,14.5],[37,12.5,15],[36,14,17],[35,15,17.3],[33.5,14.5,16.5],[33,16,18],[32,13,16],[31,13,16.5],[30.5,13.5,16],[29.5,14.2,18.2],[28.5,15,19.5],[27.5,15,19.8],[26,15,19.5],[25,15,18],[24,14.8,17.5],[23,15,18.5],[21.5,14.5,18.7],[20,15,17],[17.5,15.5,18.4],[16,15.5,17.5],[14,15,19],[13,15,19],[11.5,15,19],[10,15,19],[9,14.7,18.2],[7.5,15,17.5],[7,14.5,15.5],[6,15.5,16.5],[3,14.5,16],[2,14.5,16],[0,14.5,16.2],[-3,14.5,15.8],[-7,14.5,15.5],[-9,14.5,15.5],[-10.5,16,17],[-11.5,17,19],[-12,14.5,18.5],[-13,14.5,17],[-20,14.5,15],[-21,15.8,16],[-5,13,14.5]];
var h2oOrange = [[68.3,11.5,13.9],[63.8,13,16.6],[62,13,15],[61,17.3,62.3,13],[63.8,16.5,62.7,13],[57,11.8,12.5],[55.5,11.3,11.8],[36.5,14.5,15],[36,14,16.5],[35,15,17],[35,18.5,33,18.3],[32.5,16,18],[31,16,18],[29.5,17.5,20.5],[28.5,18,20.4],[27,20.4,23.5,20.4],[23.5,20.3,21.2,18.5],[26,19.5,20.3],[15,17,19.2],[13.5,18,19],[19.5,16,18],[18,15.8,18],[16.5,15.5,18],[15,15.5,18],[9,16.5,18],[8.8,20,20],[7.5,16,18],[19.3,20,20],[6,15.7,18],[4,15.7,18.5],[2,15.7,18],[0,15.7,18.2],[-2,15.7,18],[-4,15.7,17.5],[-6,15.7,17.5],[-8,15.7,17.5],[-10,15.7,17.5],[-12,15.7,18],[-13.5,15.7,18],[-14,15.5,20.3],[-14.5,15.2,19],[-12,17.7,-16,17.7],[-15.5,15.5,18.5],[-17.8,18,20.3],[-18.5,15.5,19],[-19.8,15,16.5]];
var h2oOlive = [[68.2,11,13.8],[62.5,15,17],[57,12,12.5],[18,17.5,18.5],[16,17,18],[8,17.5,18],[-2,17,18.3],[-2.5,17.5,18.5],[-4,17.8,18.3],[-5,17.9,18.6],[-9.5,17.3,18],[-10,17,17.8],[-8,16.5,17.5],[-18,16,18.2],[-15.5,15.7,17],[-14,17,20],[0,15.5,17],[3,16,17.5],[-12,16.5,17]];

// legend text and counts
var iwcRanges = ["10^{2}–10^{3}","10^{1}–10^{2}","10^{0}–10^{1}","10^{-1}–10^{0}","10^{-2}–10^{-1}","10^{-4}–10^{-2}"];
var iwcCounts = ["5211","80\u2009504","162\u2009076","168\u2009119","117\u2009001","72\u2009159"];
var nRanges = ["5–100","0.5–5","10^{-1}–0.5","10^{-2}–10^{-1}","10^{-3}–10^{-2}","10^{-4}–10^{-3}"];
var nCounts = ["2316","20\u2009779","64\u2009830","158\u2009039","84\u2009885","25\u2009032"];
var rRanges = ["1–4","4–8","8–20","20–50","50–80","80–200"];
var rCounts = ["7511","26\u2009201","125\u2009930","146\u2009181","20\u2009721","2404"];
var rhiRanges = ["150–200","130–150","100–130","70–100","0–70"];
var rhiCounts = ["5538","19\u2009184","147\u2009096","160\u2009183","13\u2009231"];
var outCounts = ["911","5754","43\u2009391","174\u2009197","456\u2009440"];
var h2oRanges = ["100–1000","20–100","5–20","3–5","0–3"];
var h2oCounts = ["109\u2009116","124\u2009061","142\u2009295","196\u2009657","106\u2009986"];

var legendAlts = [17,15,13,11,9,7];
var xLabels = [60,40,20,0,-20,-40];

var BLUE = "#0a0af0", DARK = "#b30404", RED = "#ff3200", ORANGE = "#ffa040", OLIVE = "#bdb800", YELLOW = "#f4f428";

// tracks listed in legend order, last legend row is painted first
var panels = [
  { tag:"(a)", tagX:125, tagY:60, title:["IWC"], titleX:596, titleY:61,
    left:128, right:1006, top:89, bottom:616, yMax:20, hours:"168.20 h", hoursLat:57.7,
    head:"IWC (mg m^{-3})", headLat:-22, textLat:-27, xLabelX:570, xLabelY:700,
    colors:[BLUE,DARK,RED,ORANGE,OLIVE,YELLOW], ranges:iwcRanges, counts:iwcCounts,
    tracks:[iwcBlue,iwcDark,iwcRed,iwcOrange,iwcOlive,iwcYellow],
    sizes:[[6,6],[7,6],[7,6],[9,8],[10,8],[16,12]], gaps:[.5,.5,.5,.5,.5,.5] },
  { tag:"(b)", tagX:125, tagY:774, title:["N","ice"," > 3μm diameter"], titleX:596, titleY:768,
    left:128, right:1006, top:802.6, bottom:1330, yMax:20, hours:"99.11 h", hoursLat:57.7,
    head:"N_ICE (cm^{-3})", headLat:-22, textLat:-27, xLabelX:570, xLabelY:1408,
    colors:[BLUE,DARK,RED,ORANGE,OLIVE,YELLOW], ranges:nRanges, counts:nCounts,
    tracks:[nBlue,nDark,nRed,nOrange,nOlive,nYellow],
    sizes:[[6,6],[6,6],[7,6],[8,7],[9,8],[12,10]], gaps:[.5,.5,.5,.5,.5,.5] },
  { tag:"(c)", tagX:118, tagY:1491, title:["R","ice"], titleX:596, titleY:1483,
    left:116, right:997, top:1525.4, bottom:2053.4, yMax:20, hours:"91.38 h", hoursLat:58,
    head:"R_ICE (μm):", headLat:-22, textLat:-26, xLabelX:553, xLabelY:2127, yLabelX:43, yLabelY:1789,
    colors:[YELLOW,OLIVE,ORANGE,RED,DARK,BLUE], ranges:rRanges, counts:rCounts,
    tracks:[rYellow,rOlive,rOrange,rRed,rDark,rBlue],
    sizes:[[4,4],[4,4],[6,6],[8,7],[9,8],[10,10]], gaps:[2,3,.5,.5,.5,.5] },
  { tag:"(d)", tagX:1152, tagY:58, title:["RH","ice"," in-cloud"], titleX:1626, titleY:55,
    left:1156, right:2040, top:92, bottom:622.7, yMax:20, hours:"92.22 h", hoursLat:56.7,
    head:"RHi in (%):", headLat:-22, textLat:-26, xLabelX:1598, xLabelY:701, yLabelX:1082, yLabelY:358,
    colors:[BLUE,DARK,RED,ORANGE,OLIVE], ranges:rhiRanges, counts:rhiCounts,
    tracks:[rhiBlue,rhiDark,rhiRed,rhiOrange,rhiOlive],
    sizes:[[5,5],[6,5],[6,6],[7,7],[7,7]], gaps:[.5,.5,.5,.5,.5] },
  { tag:"(e)", tagX:1152, tagY:774, title:["RH","ice"," clear sky"], titleX:1625, titleY:769,
    left:1152, right:2039, top:802, bottom:1335, yMax:21, hours:"189.08 h", hoursLat:58,
    head:"RHi out (%):", headLat:-22, textLat:-26, xLabelX:1596, xLabelY:1413, yLabelX:1079, yLabelY:1069,
    colors:[BLUE,DARK,RED,ORANGE,OLIVE], ranges:rhiRanges, counts:outCounts,
    tracks:[outBlue,outDark,outRed,outOrange,outOlive],
    sizes:[[5,5],[6,6],[6,6],[8,7],[9,8]], gaps:[.5,.7,.7,.5,.5] },
  { tag:"(f)", tagX:1157, tagY:1488, title:["H","2","O clear sky"], titleX:1624, titleY:1485,
    left:1160, right:2040, top:1521.7, bottom:2049, yMax:21, hours:"189.84 h", hoursLat:57.9,
    head:"H_{2}O (ppmv):", headLat:-22, textLat:-26, xLabelX:1596, xLabelY:2128, yLabelX:1087, yLabelY:1785,
    colors:[BLUE,DARK,RED,ORANGE,OLIVE], ranges:h2oRanges, counts:h2oCounts,
    tracks:[h2oBlue,h2oDark,h2oRed,h2oOrange,h2oOlive],
    sizes:[[7,7],[7,7],[7,7],[8,7],[7,7]], gaps:[.5,.5,.5,.5,.5] }
];

var svg = d3.select("#chart").append("svg").attr("width", 2067).attr("height", 2161);

// diamonds stamped along a flight leg, gap is in half-diamonds
function trackPath(t, x, y, w, h, gap) {
  var a = t.length == 3 ? [t[0],t[1],t[0],t[2]] : t;
  var x0 = x(a[0]), y0 = y(a[1]), x1 = x(a[2]), y1 = y(a[3]);
  var n = Math.ceil(Math.max(Math.abs(x1-x0)/w, Math.abs(y1-y0)/h) / gap);
  return d3.range(n+1).map(function(i) {
    var f = n ? i/n : 0, cx = x0+(x1-x0)*f, cy = y0+(y1-y0)*f;
    return "M"+(cx-w)+","+cy+"L"+cx+","+(cy-h)+"L"+(cx+w)+","+cy+"L"+cx+","+(cy+h)+"Z";
  }).join("");
}

// text with ^{sup} and _{sub} pieces
function richText(sel, str) {
  str.split(/(\^\{[^}]*\}|_\{[^}]*\})/).forEach(function(part) {
    if (!part) return;
    if (part[0] == "^" && part[1] == "{") {
      sel.append("tspan").attr("font-size","66%").attr("baseline-shift","38%").text(part.slice(2,-1).replace("-","−"));
    } else if (part[0] == "_" && part[1] == "{") {
      sel.append("tspan").attr("font-size","66%").attr("baseline-shift","-18%").text(part.slice(2,-1));
    } else {
      sel.append("tspan").text(part);
    }
  });
}

panels.forEach(function(p) {
  var x = d3.scaleLinear().domain([70,-50]).range([p.left,p.right]);
  var y = d3.scaleLinear().domain([4,p.yMax]).range([p.bottom,p.top]);
  var g = svg.append("g");

  // marks, last legend row at the bottom of the pile
  d3.range(p.tracks.length-1,-1,-1).forEach(function(i) {
    g.append("g").attr("fill",p.colors[i]).selectAll("path")
      .data(p.tracks[i]).enter().append("path")
      .attr("d", function(t) { return trackPath(t,x,y,p.sizes[i][0],p.sizes[i][1],p.gaps[i]); });
  });

  // dotted latitude lines
  g.selectAll(".grid").data(xLabels).enter().append("line")
    .attr("x1",x).attr("x2",x).attr("y1",p.top).attr("y2",p.bottom)
    .attr("stroke","#222").attr("stroke-width",1).attr("stroke-dasharray","2,2");

  // axes
  var xTicks = d3.range(-45,70,5);
  var fmt = function(d) { return d % 20 == 0 ? d3.format("d")(d) : ""; };
  g.append("g").attr("transform","translate(0,"+p.bottom+")")
    .call(d3.axisBottom(x).tickValues(xTicks).tickSize(-10).tickPadding(13).tickFormat(fmt));
  g.append("g").attr("transform","translate(0,"+p.top+")")
    .call(d3.axisTop(x).tickValues(xTicks).tickSize(-8).tickFormat(""));
  var yTicks = d3.range(5,p.yMax+1,1);
  var leftAxis = g.append("g").attr("transform","translate("+p.left+",0)")
    .call(d3.axisLeft(y).tickValues(yTicks).tickSize(-10).tickPadding(7)
      .tickFormat(function(d) { return d % 5 == 0 ? d : ""; }));
  var rightAxis = g.append("g").attr("transform","translate("+p.right+",0)")
    .call(d3.axisRight(y).tickValues(yTicks).tickSize(-10).tickFormat(""));
  [leftAxis,rightAxis].forEach(function(a,k) {
    a.selectAll(".tick line").filter(function(d) { return d % 5 == 0; }).attr("x2", k ? -19 : 18);
  });
  g.selectAll(".domain").attr("stroke","#333").attr("stroke-width",1.6);
  g.selectAll(".tick line").attr("stroke","#333").attr("stroke-width",1.3);
  g.selectAll(".tick text").attr("font-size",25).attr("font-family",null).attr("fill","#222");

  // axis titles
  var xl = g.append("text").attr("x",p.xLabelX).attr("y",p.xLabelY).attr("text-anchor","middle").attr("font-size",25);
  richText(xl,"Latitude (^{o})");
  if (p.yLabelX) {
    g.append("text").attr("transform","translate("+p.yLabelX+","+p.yLabelY+") rotate(-90)")
      .attr("text-anchor","middle").attr("font-size",25).text("Altitude (km)");
  }

  // panel letter and title
  g.append("text").attr("x",p.tagX).attr("y",p.tagY).attr("font-size",39).text(p.tag);
  var t = g.append("text").attr("class","serif").attr("x",p.titleX).attr("y",p.titleY)
    .attr("text-anchor","middle").attr("font-size",46);
  t.append("tspan").text(p.title[0]);
  if (p.title.length > 1) {
    if (p.title[1] == "2") t.append("tspan").attr("font-size","70%").attr("baseline-shift","-14%").text("2");
    else t.append("tspan").attr("font-size","80%").attr("baseline-shift","-20%").text(p.title[1]);
  }
  if (p.title.length > 2) {
    t.append("tspan").attr("font-size", p.tag == "(b)" ? 31 : 46).text(p.title[2]);
  }

  // hours flown
  g.append("text").attr("x",x(p.hoursLat)).attr("y",y(18.2)).attr("font-size",18).text(p.hours);

  // legend
  richText(g.append("text").attr("x",x(p.headLat)).attr("y",y(18.2)).attr("font-size",18), p.head);
  g.append("text").attr("x",x(-44.5)).attr("y",y(18.2)).attr("text-anchor","middle").attr("font-size",18).text("No.");
  p.ranges.forEach(function(r,i) {
    var alt = legendAlts[i];
    g.append("path").attr("fill",p.colors[i]).attr("d",trackPath([-24,alt,alt],x,y,10,9,1));
    richText(g.append("text").attr("x",x(p.textLat)).attr("y",y(alt)+7).attr("font-size",20), r);
    g.append("text").attr("x",x(-44.6)).attr("y",y(alt)+6).attr("text-anchor","middle").attr("font-size",18).text(p.counts[i]);
  });
  p.x = x; p.y = y; p.g = g;
});

// annotations
var noteA = [["Liquid",19.85,11.28],["origin",19.85,10.55],["cirrus",19.85,9.85]];
var noteB = [["Convection / gravity waves",5.9,19.26],["Mountain",52.9,13.52],["waves",52.9,12.82],["Contrails",36,11.21],["Hom. drop",-7.3,6.63],["freezing",-7.3,5.93],["Hom. ice",30.7,5.18],["nucleation",30.7,4.5]];
var starsB = [[-15.3,19.4,170],[52.9,14.3,170],[37.6,5.45,50]];
var ringsB = [[36,11.94],[1.2,6.95]];
var leadersB = [[6.2,18.72,11.7,16.28],[57.6,13,60.2,11.33],[42.6,11.26,49.9,10.82],[-7.1,7.19,-4.2,8.69]];

[[panels[0],noteA],[panels[1],noteB]].forEach(function(n) {
  n[1].forEach(function(d) {
    n[0].g.append("text").attr("class","note").attr("x",n[0].x(d[1])).attr("y",n[0].y(d[2]))
      .attr("text-anchor","middle").text(d[0]);
  });
});
var pb = panels[1];
pb.g.selectAll(".star").data(starsB).enter().append("path")
  .attr("transform",function(d) { return "translate("+pb.x(d[0])+","+pb.y(d[1])+")"; })
  .attr("d",function(d) { return d3.symbol().type(d3.symbolAsterisk).size(d[2])(); })
  .attr("fill","none").attr("stroke","#2438c4").attr("stroke-width",2);
pb.g.selectAll(".ring").data(ringsB).enter().append("circle")
  .attr("cx",function(d) { return pb.x(d[0]); }).attr("cy",function(d) { return pb.y(d[1]); }).attr("r",4.5)
  .attr("fill","none").attr("stroke","#2438c4").attr("stroke-width",2);
pb.g.selectAll(".dot").data(ringsB).enter().append("circle")
  .attr("cx",function(d) { return pb.x(d[0]); }).attr("cy",function(d) { return pb.y(d[1]); }).attr("r",1.2)
  .attr("fill","#2438c4");
pb.g.selectAll(".leader").data(leadersB).enter().append("line")
  .attr("x1",function(d) { return pb.x(d[0]); }).attr("y1",function(d) { return pb.y(d[1]); })
  .attr("x2",function(d) { return pb.x(d[2]); }).attr("y2",function(d) { return pb.y(d[3]); })
  .attr("stroke","#2438c4").attr("stroke-width",1.5);
</script>
</body>
</html>
